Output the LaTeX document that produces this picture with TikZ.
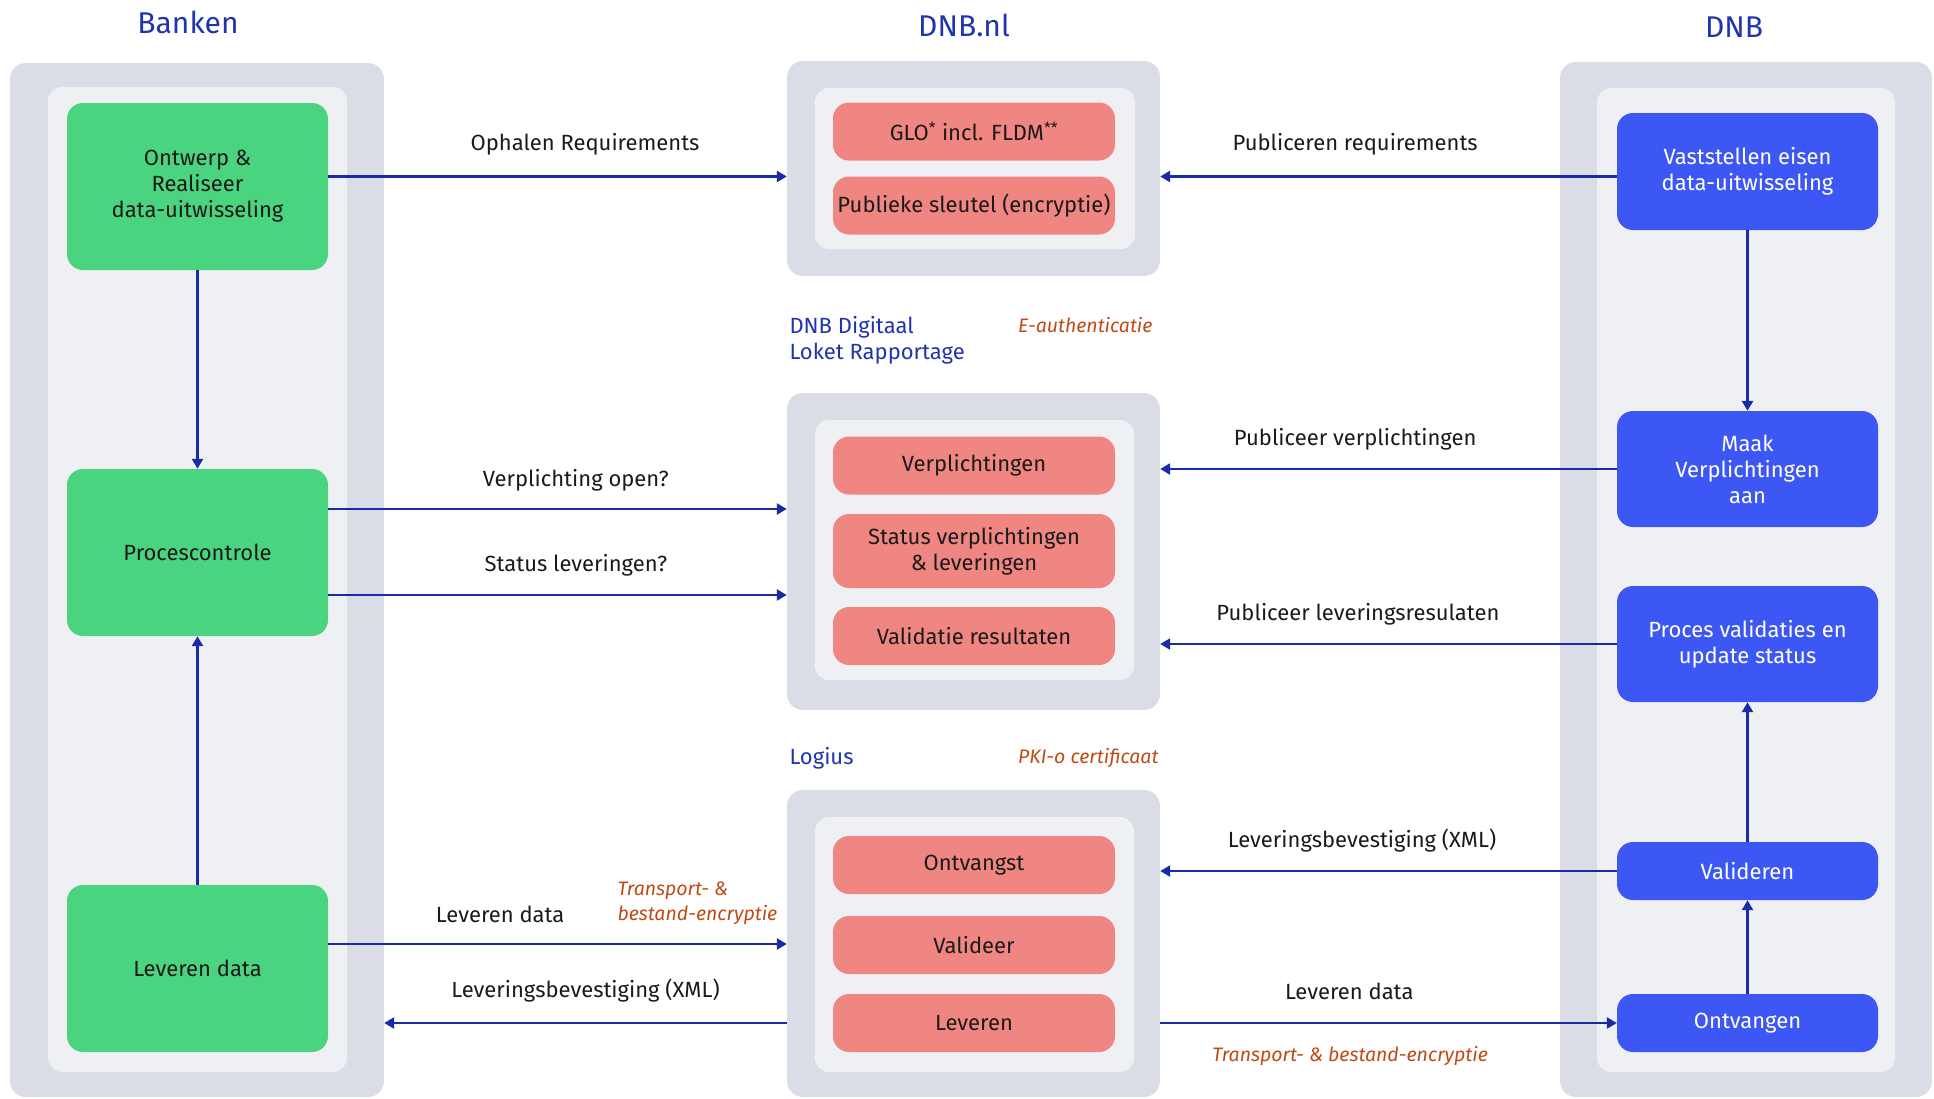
\documentclass[tikz,border=0pt]{standalone}
\usepackage{fontspec}
\setmainfont{Fira Sans}
\usetikzlibrary{arrows.meta, positioning}

\definecolor{grijsbuiten}{RGB}{218,221,229}
\definecolor{grijsbinnen}{RGB}{239,240,244}
\definecolor{groen}{RGB}{75,212,128}
\definecolor{roze}{RGB}{240,134,130}
\definecolor{blauw}{RGB}{61,87,245}
\definecolor{pijlblauw}{RGB}{26,43,168}
\definecolor{kopblauw}{RGB}{32,52,176}
\definecolor{oranje}{RGB}{192,74,20}
\definecolor{tekst}{RGB}{26,26,26}

\tikzset{
  buiten/.style={fill=grijsbuiten, rounded corners=16pt, inner sep=0pt},
  binnen/.style={fill=grijsbinnen, rounded corners=14pt, inner sep=0pt},
  bank/.style={fill=groen, rounded corners=16pt, minimum width=261pt, minimum height=167pt,
    align=center, text=tekst, font=\fontsize{22}{26}\selectfont},
  dienst/.style={fill=roze, rounded corners=16pt, minimum width=282pt, minimum height=58pt,
    align=center, text=tekst, font=\fontsize{22}{26}\selectfont},
  dnbstap/.style={fill=blauw, rounded corners=16pt, minimum width=261pt, minimum height=58pt,
    align=center, text=white, font=\fontsize{22}{26}\selectfont},
  pijl/.style={draw=pijlblauw, line width=2.5pt, -{Triangle[length=10pt,width=11pt]}},
  pijltekst/.style={anchor=center, text=tekst, font=\fontsize{22}{26}\selectfont},
  kop/.style={text=kopblauw, font=\fontsize{30}{34}\selectfont},
  kopklein/.style={text=kopblauw, align=left, font=\fontsize{22}{26}\selectfont},
  notitie/.style={text=oranje, align=left, font=\fontsize{19.5}{25}\selectfont\itshape},
}

\begin{document}
\begin{tikzpicture}[x=1pt, y=-1pt]
\useasboundingbox (0,0) rectangle (1934,1098);

% kolommen
\node[buiten, minimum width=374pt, minimum height=1034pt] (banken) at (197,580) {};
\node[binnen, minimum width=299pt, minimum height=985pt] (bankenin) at (197.5,579.5) {};
\node[buiten, minimum width=372pt, minimum height=1035pt] (dnb) at (1746,579.5) {};
\node[binnen, minimum width=298pt, minimum height=984pt] (dnbin) at (1746,580) {};

\node[buiten, minimum width=373pt, minimum height=215pt] (dnbnl) at (973.5,168.5) {};
\node[binnen, minimum width=320pt, minimum height=161pt] (dnbnlin) at (975,168.5) {};
\node[buiten, minimum width=373pt, minimum height=317pt] (loket) at (973.5,551.5) {};
\node[binnen, minimum width=319pt, minimum height=260pt] (loketin) at (974.5,550) {};
\node[buiten, minimum width=373pt, minimum height=307pt] (logius) at (973.5,943.5) {};
\node[binnen, minimum width=319pt, minimum height=255pt] (logiusin) at (974.5,944.5) {};

% koppen
\node[kop] (kopbanken) at (188,22) {Banken};
\node[kop] (kopdnbnl) at (964,25) {DNB.nl};
\node[kop] (kopdnb) at (1734,27) {DNB};
\node[kopklein, anchor=west] (kopdlr) at (786,340) {DNB Digitaal\\Loket Rapportage};
\node[notitie, anchor=east] (eauth) at (1156,325) {E-authenticatie};
\node[kopklein, anchor=west] (koplogius) at (786,758) {Logius};
\node[notitie, anchor=east] (pkio) at (1162,758) {PKI-o certificaat};
\node[notitie, anchor=west] (encrlinks) at (614,903) {Transport- \&\\bestand-encryptie};

% banken
\node[bank] (ontwerp) at (197.5,186.5) {Ontwerp \&\\Realiseer\\data-uitwisseling};
\node[bank] (proces) at (197.5,552.5) {Procescontrole};
\node[bank] (leveren) at (197.5,968.5) {Leveren data};

% dnb.nl en loket
\node[dienst] (glo) at (974,131.5) {GLO\textsuperscript{*} incl. FLDM\textsuperscript{**}};
\node[dienst] (sleutel) at (974,205.5) {Publieke sleutel (encryptie)};
\node[dienst] (verpl) at (974,465.5) {Verplichtingen};
\node[dienst, minimum height=74pt] (status) at (974,551) {Status verplichtingen\\\& leveringen};
\node[dienst] (valres) at (974,636) {Validatie resultaten};
\node[dienst] (ontvangst) at (974,865) {Ontvangst};
\node[dienst] (valideer) at (974,945) {Valideer};
\node[dienst] (leverlog) at (974,1023) {Leveren};

% dnb
\node[dnbstap, minimum height=117pt] (vaststellen) at (1747.5,171.5) {Vaststellen eisen\\data-uitwisseling};
\node[dnbstap, minimum height=116pt] (maak) at (1747.5,469) {Maak\\Verplichtingen\\aan};
\node[dnbstap, minimum height=116pt] (procval) at (1747.5,644) {Proces validaties en\\update status};
\node[dnbstap] (valideren) at (1747.5,871) {Valideren};
\node[dnbstap] (ontvangen) at (1747.5,1023) {Ontvangen};

% verbindingen
\draw[pijl] (ontwerp) -- (proces);
\draw[pijl] (leveren) -- (proces);
\draw[pijl] (vaststellen) -- (maak);
\draw[pijl] (valideren) -- (procval);
\draw[pijl] (ontvangen) -- (valideren);

\draw[pijl] ([yshift=10pt]ontwerp.east) -- ([yshift=10pt]ontwerp.east -| dnbnl.west)
  node[pijltekst, pos=.56, yshift=32pt] (lblophalen) {Ophalen Requirements};
\draw[pijl] ([yshift=-5pt]vaststellen.west) -- ([yshift=-5pt]vaststellen.west -| dnbnl.east)
  node[pijltekst, pos=.573, yshift=32pt] (lblpubreq) {Publiceren requirements};
\draw[pijl] ([yshift=43.5pt]proces.east) -- ([yshift=43.5pt]proces.east -| loket.west)
  node[pijltekst, pos=.54, yshift=29pt] (lblopen) {Verplichting open?};
\draw[pijl] ([yshift=-42.5pt]proces.east) -- ([yshift=-42.5pt]proces.east -| loket.west)
  node[pijltekst, pos=.54, yshift=30pt] (lblstatus) {Status leveringen?};
\draw[pijl] (maak.west) -- (maak.west -| loket.east)
  node[pijltekst, pos=.573, yshift=30pt] (lblpubverpl) {Publiceer verplichtingen};
\draw[pijl] (procval.west) -- (procval.west -| loket.east)
  node[pijltekst, pos=.567, yshift=30pt] (lblpubres) {Publiceer leveringsresulaten};
\draw[pijl] ([yshift=24.5pt]leveren.east) -- ([yshift=24.5pt]leveren.east -| logius.west)
  node[pijltekst, pos=.375, yshift=30pt] (lbllevlinks) {Leveren data};
\draw[pijl] (leverlog.west -| logius.west) -- (leverlog.west -| banken.east)
  node[pijltekst, pos=.5, yshift=32pt] (lblbevlinks) {Leveringsbevestiging (XML)};
\draw[pijl] (valideren.west) -- (valideren.west -| logius.east)
  node[pijltekst, pos=.558, yshift=30pt] (lblbevrechts) {Leveringsbevestiging (XML)};
\draw[pijl] (ontvangen.west -| logius.east) -- (ontvangen.west)
  node[pijltekst, pos=.414, yshift=32pt] (lbllevrechts) {Leveren data}
  node[notitie, pos=.416, yshift=-33pt] (encrrechts) {Transport- \& bestand-encryptie};
\end{tikzpicture}
\end{document}
